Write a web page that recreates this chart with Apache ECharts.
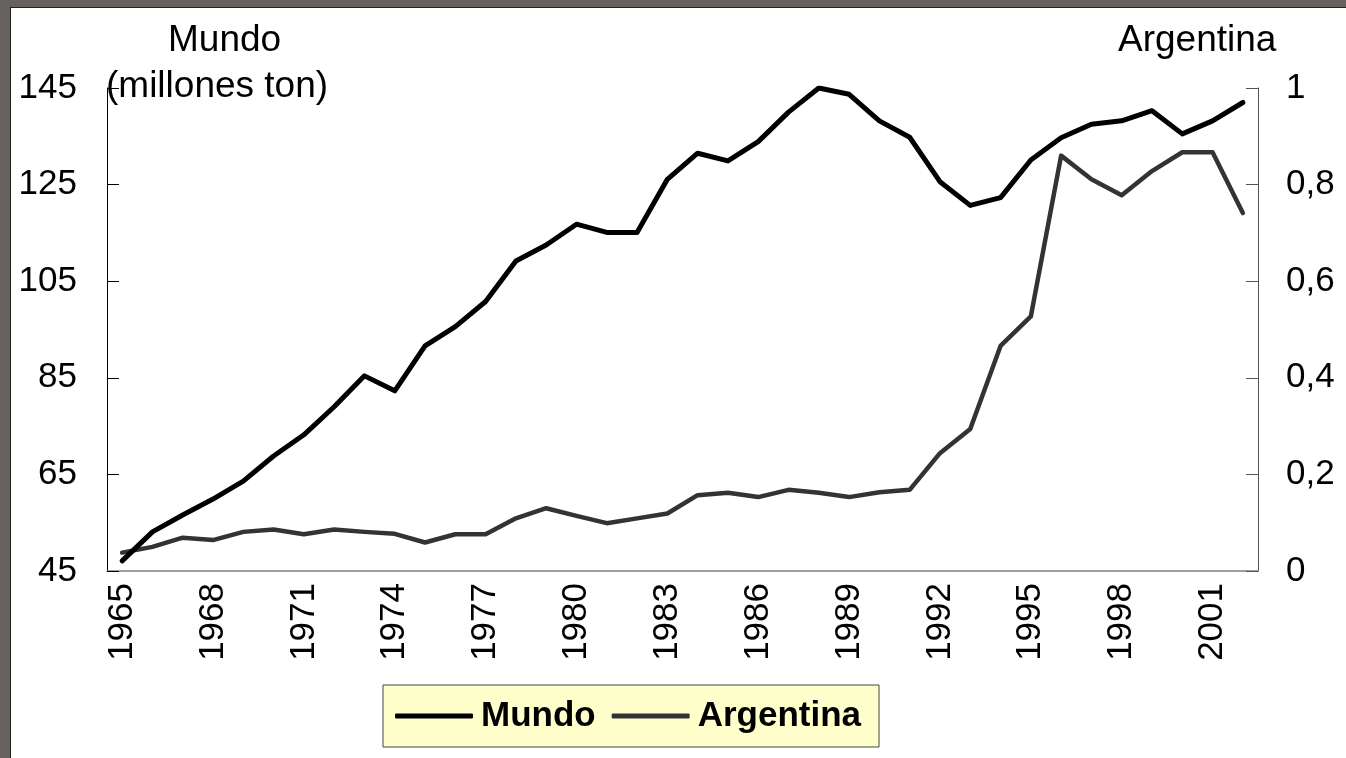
<!DOCTYPE html>
<html>
<head>
<meta charset="utf-8">
<script src="https://cdn.jsdelivr.net/npm/echarts@6/dist/echarts.min.js"></script>
<style>
  html, body { margin: 0; padding: 0; background: #fff; }
  #chart { width: 1346px; height: 758px; }
</style>
</head>
<body>
<div id="chart"></div>
<script>
// años 1965 - 2002
var years = [];
for (var y = 1965; y <= 2002; y++) years.push(String(y));

// Mundo (millones ton), eje izquierdo
var mundo = [47.1, 53.1, 56.6, 59.9, 63.6, 68.8, 73.2, 79.0, 85.4, 82.3,
             91.6, 95.6, 100.8, 109.2, 112.5, 116.8, 115.1, 115.1, 126.1, 131.5,
             129.9, 133.9, 140.0, 145.0, 143.7, 138.2, 134.8, 125.6, 120.7, 122.3,
             130.1, 134.7, 137.5, 138.2, 140.3, 135.5, 138.2, 142.0];

// Argentina (millones ton), eje derecho
var argentina = [0.038, 0.050, 0.069, 0.064, 0.081, 0.086, 0.076, 0.086, 0.081, 0.077,
                 0.059, 0.076, 0.076, 0.109, 0.130, 0.114, 0.099, 0.109, 0.119, 0.157,
                 0.162, 0.153, 0.168, 0.162, 0.153, 0.163, 0.168, 0.244, 0.294, 0.466,
                 0.527, 0.860, 0.811, 0.778, 0.828, 0.867, 0.867, 0.741];

var font = '"Liberation Sans", Arial, sans-serif';
var frameGray = '#676260';

var chart = echarts.init(document.getElementById('chart'));

var option = {
  backgroundColor: '#fff',
  animation: false,
  grid: { left: 107, right: 88, top: 88, bottom: 187 },
  legend: {
    left: 383, top: 685,
    padding: [12, 18, 12, 12],
    backgroundColor: '#ffffcc',
    borderColor: '#444',
    borderWidth: 1,
    icon: 'roundRect',
    itemWidth: 78,
    itemHeight: 5,
    itemGap: 16,
    textStyle: { fontFamily: font, fontSize: 35, fontWeight: 'bold', color: '#000', lineHeight: 38, padding: [0, 0, 0, 3] },
    data: ['Mundo', 'Argentina']
  },
  xAxis: {
    type: 'category',
    data: years,
    boundaryGap: true,
    axisLine: { lineStyle: { color: '#808080', width: 1.5 } },
    axisTick: { inside: true, length: 10, interval: 0, lineStyle: { color: '#000' } },
    axisLabel: {
      interval: 2, rotate: 90, margin: 12,
      fontFamily: font, fontSize: 35, color: '#000'
    },
    splitLine: { show: false }
  },
  yAxis: [
    {
      type: 'value', min: 45, max: 145, interval: 20,
      axisLine: { show: true, lineStyle: { color: '#000', width: 1 } },
      axisTick: { show: true, inside: true, length: 12, lineStyle: { color: '#000' } },
      axisLabel: { margin: 30, fontFamily: font, fontSize: 35, color: '#000' },
      splitLine: { show: false }
    },
    {
      type: 'value', min: 0, max: 1, interval: 0.2,
      axisLine: { show: true, lineStyle: { color: '#555', width: 1 } },
      axisTick: { show: true, inside: true, length: 12, lineStyle: { color: '#555' } },
      axisLabel: {
        margin: 28, fontFamily: font, fontSize: 35, color: '#000',
        formatter: function (v) { return String(Math.round(v * 10) / 10).replace('.', ','); }
      },
      splitLine: { show: false }
    }
  ],
  graphic: [
    { type: 'rect', shape: { x: 0, y: 0, width: 1346, height: 7 }, style: { fill: frameGray }, silent: true },
    { type: 'rect', shape: { x: 0, y: 0, width: 10, height: 758 }, style: { fill: frameGray }, silent: true },
    { type: 'rect', shape: { x: 10, y: 7, width: 1336, height: 1 }, style: { fill: '#222' }, silent: true },
    { type: 'rect', shape: { x: 10, y: 7, width: 1, height: 751 }, style: { fill: '#222' }, silent: true },
    { type: 'text', left: 168, top: 22, style: { text: 'Mundo', font: '37px ' + font, fill: '#000' } },
    { type: 'text', left: 106, top: 68, style: { text: '(millones ton)', font: '37px ' + font, fill: '#000' } },
    { type: 'text', left: 1118, top: 22, style: { text: 'Argentina', font: '37px ' + font, fill: '#000' } }
  ],
  series: [
    {
      name: 'Argentina', type: 'line', yAxisIndex: 1,
      data: argentina, symbol: 'none', z: 2,
      lineStyle: { color: '#333', width: 4.5, cap: 'round', join: 'round' },
      itemStyle: { color: '#333' }
    },
    {
      name: 'Mundo', type: 'line', yAxisIndex: 0,
      data: mundo, symbol: 'none', z: 3,
      lineStyle: { color: '#000', width: 5, cap: 'round', join: 'round' },
      itemStyle: { color: '#000' }
    }
  ]
};

chart.setOption(option);
</script>
</body>
</html>
